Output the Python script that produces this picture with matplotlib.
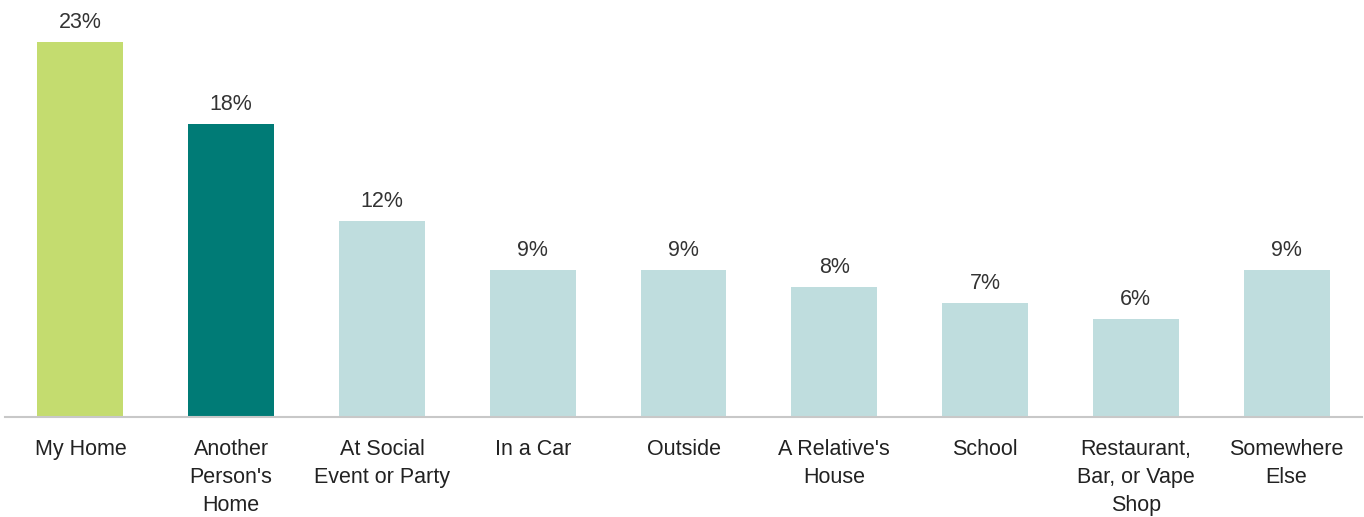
import matplotlib.pyplot as plt

categories = ["My Home", "Another\nPerson's\nHome", "At Social\nEvent or Party", "In a Car",
              "Outside", "A Relative's\nHouse", "School", "Restaurant,\nBar, or Vape\nShop",
              "Somewhere\nElse"]
values = [23, 18, 12, 9, 9, 8, 7, 6, 9]
colors = ["#C4DC6F", "#007B76"] + ["#BFDDDE"] * 7

plt.rcParams['font.family'] = ['Liberation Sans', 'DejaVu Sans']

fig = plt.figure(figsize=(13.64, 5.17), dpi=100)
ax = fig.add_axes([5 / 1364, 100 / 517, 1357 / 1364, 417 / 517])

x = range(len(categories))
ax.bar(x, values, width=0.57, color=colors)
for xi, v in zip(x, values):
    ax.annotate(f"{v}%", (xi, v), xytext=(0, 6.5), textcoords="offset points",
                ha="center", va="bottom", fontsize=15.5, color="#333333")

ax.set_xlim(-0.5, len(categories) - 0.5)
ax.set_ylim(0, 417 / 16.3)
ax.set_xticks(list(x))
ax.set_xticklabels(categories, fontsize=15.5, color="#222222", linespacing=1.42, va="top")
ax.tick_params(axis="x", length=0, pad=16)
ax.set_yticks([])
for side in ["top", "right", "left"]:
    ax.spines[side].set_visible(False)
ax.spines["bottom"].set_color("#C8C8C8")
ax.spines["bottom"].set_linewidth(1.5)

fig.savefig("out.png", dpi=100)
